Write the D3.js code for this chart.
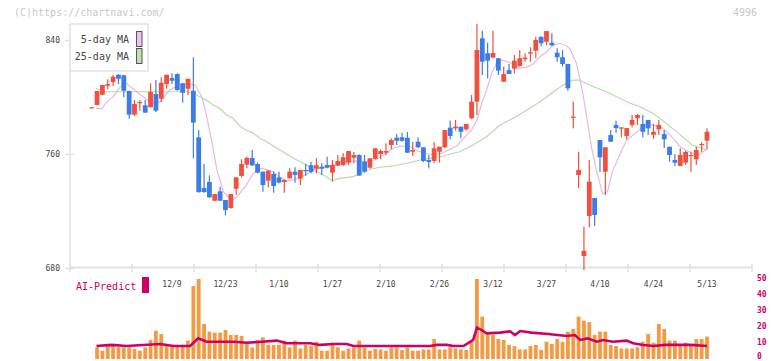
<!DOCTYPE html>
<html>
<head>
<meta charset="utf-8">
<script src="https://cdn.jsdelivr.net/npm/d3@7"></script>
<style>
  body { margin: 0; background: #fff; }
  text { font-family: "DejaVu Sans Mono", "Liberation Mono", monospace; }
</style>
</head>
<body>
<svg id="chart" width="772" height="361"></svg>
<script>
// daily candles, index 0..115 (last = 5/13)
const open = [
  792.8, 794.4, 801.6, 807.9, 810.5, 815.6, 815.2, 804.2, 787.6, 795.6,
  794.2, 792.8, 802.1, 798.8, 809.1, 813.3, 816.1, 809.6, 805.8, 804.4,
  771.7, 736.1, 740.4, 727.2, 733.8, 727.7, 722.1, 735.6, 744.6, 752.5,
  757.2, 753, 747.6, 741.3, 746, 743.6, 740.4, 742.9, 747.6, 742.7,
  748.8, 752.1, 749.7, 751.1, 752.3, 746.9, 751.8, 752.3, 753.9, 757.4,
  759.3, 754.6, 750.4, 756.6, 760, 760.9, 766.3, 771.4, 771.7, 771.4,
  761.6, 768.6, 764.7, 755.8, 755.1, 761.6, 764.7, 778.5, 778, 779.2,
  777.3, 785.1, 796.7, 841.2, 830.7, 827.6, 827.2, 810.7, 818.9, 819.9,
  821.8, 826.5, 830.4, 832.5, 842.3, 838.8, 838.1, 831.1, 827.9, 823.2,
  785.8, 745.3, 688.4, 716.5, 729.1, 769.8, 747.6, 773.3, 780.4, 777.8,
  772.6, 780.4, 785.1, 781.1, 783.9, 773.5, 777.3, 774, 765.1, 755.8,
  751.6, 753.9, 758.6, 756.3, 766.3, 769.3];
const close = [
  792.8, 804.2, 808.4, 809.1, 814.2, 812.8, 804.4, 787.6, 795.1, 796.5,
  789, 803.5, 790.4, 810, 815.6, 811.4, 804.9, 803, 812.8, 782,
  733.3, 733.3, 729.6, 731.9, 727.2, 720.7, 731.9, 743.6, 753, 757.2,
  752, 746.9, 738.2, 748.3, 737.5, 739.9, 741.8, 747.6, 745.3, 748.8,
  747.9, 747.4, 752.1, 749.7, 750.4, 752.3, 755.1, 757.7, 762.1, 759.3,
  744.8, 747.6, 757, 764, 762.1, 762.1, 769.8, 769.3, 769.3, 760.9,
  762.8, 764.7, 755.1, 754.4, 764, 765.1, 776.8, 772.6, 779.2, 775.6,
  781.1, 796.7, 833, 824.8, 825.5, 830.9, 818.5, 816.1, 816.1, 825.5,
  827.2, 827.6, 831.4, 840, 837.7, 846.3, 836.3, 827.9, 823.2, 806.1,
  786.2, 748.8, 692.1, 740.6, 717.2, 757.7, 764.7, 768.6, 778.2, 778.7,
  778.2, 783.9, 787.4, 775.6, 778, 775.6, 780.4, 770.3, 759.3, 753.9,
  759.3, 761.4, 759.3, 762.8, 767, 775.6];
const high = [
  793, 804.4, 808.6, 812.4, 815.6, 816.1, 815.6, 804.4, 797.9, 797.9,
  797.9, 809.6, 811.9, 813.8, 815.6, 816.6, 816.6, 810, 812.8, 827.9,
  776.8, 753, 745, 732, 737, 727.7, 731.9, 743.6, 756.3, 758.1,
  762.8, 754, 747.6, 748.8, 747.6, 747.6, 742.3, 750, 750.7, 748.8,
  753, 754.4, 757, 753.5, 758.1, 755.8, 759.3, 760.6, 762.1, 761.4,
  759.8, 759.3, 757, 764, 763.3, 767.5, 771, 774, 774.9, 775.4,
  768.4, 771.7, 764.7, 759.3, 768.4, 765.1, 776.8, 783.4, 783.9, 779.2,
  781.1, 801.4, 851.2, 846.5, 838.1, 846.5, 827.2, 821.3, 823.2, 829.5,
  833, 830.7, 834.9, 842.3, 842.3, 846.3, 844.7, 834.2, 833, 823.2,
  796.7, 761.6, 709, 755.8, 729.1, 769.8, 764.7, 776.8, 783.4, 778.7,
  778.2, 787.6, 788.1, 787.4, 783.9, 781.1, 783.9, 776.8, 765.1, 760,
  764, 762.3, 761.6, 765.1, 768.4, 778];
const low = [
  792.6, 794.2, 801.2, 805.4, 807.7, 809.1, 799.8, 784.8, 786.7, 790.4,
  789, 792.8, 789.5, 796.5, 805.8, 809.1, 804.4, 796, 801.2, 757,
  732.8, 732.8, 729.1, 726.8, 727.2, 717, 721.6, 731.4, 743.6, 750,
  751.6, 746.5, 733.5, 736.6, 732.8, 739.4, 732.8, 742.7, 739.9, 738.2,
  744.6, 746.5, 746.5, 745.3, 750, 740.6, 751.6, 751.6, 752.1, 753.5,
  744.8, 746.9, 749.7, 756.3, 756.3, 759.3, 763.3, 766.3, 768.6, 760.9,
  758.6, 764.2, 754.4, 749.9, 753.5, 753.9, 764.2, 770.3, 776.4, 771,
  776.4, 784.4, 787.4, 815.4, 813.1, 827.6, 815.4, 810.7, 816.1, 816.6,
  821.3, 824.8, 824.8, 827.2, 835.8, 836.3, 835.8, 824.8, 821.3, 804.4,
  778, 736.1, 678.6, 708.6, 709.5, 747.4, 731.2, 768.6, 774.9, 771.7,
  770.3, 778.7, 780.4, 771.7, 773.3, 770.7, 773.3, 764.2, 754.6, 751.6,
  751.6, 752.3, 747.4, 752.3, 761.4, 763.3];
const volume = [
  null, 7.3, 5.2, 9.4, 8.1, 7.3, 7.3, 7.3, 6.3, 5.2,
  7.3, 11.9, 17.7, 15.6, 8.1, 8.1, 8.8, 8.1, 11.5, 45.6,
  50, 21.9, 17.1, 16.5, 16.5, 18.1, 15, 15, 14.4, 10.8,
  7.3, 11.9, 13.5, 8.8, 8.8, 8.8, 11.5, 7.3, 11.5, 6.6,
  8.8, 8.1, 10.8, 5.2, 5.2, 10.2, 7.3, 5.2, 6.6, 7.3,
  11.5, 7.3, 5.2, 6.3, 6, 5.2, 7.3, 7.3, 5.6, 7.3,
  5.2, 5.2, 6, 6, 12.5, 6, 6, 7.3, 6.6, 6,
  5.6, 10.8, 50, 26.5, 15.6, 15, 12.5, 11.9, 8.8, 8.1,
  6, 6, 8.1, 8.8, 5.6, 10.8, 9.4, 12.5, 10.8, 17.1,
  18.8, 26.5, 24, 23.1, 15, 17.1, 17.1, 8.8, 8.1, 6.6,
  6.6, 6.6, 7.3, 10.8, 15.6, 10.2, 21.9, 18.8, 11.5, 11.5,
  8.8, 10.2, 8.8, 12.5, 12.5, 14];

// moving averages: [candle index, value]
const ma5 = [
  [0.8, 791.9], [1.9, 791.9], [2.8, 796.4], [4, 800.2], [5.3, 807], [6.5, 809.6],
  [7.5, 806.3], [8.7, 802.8], [10, 799.1], [11.2, 795.1], [12.8, 796.7], [14.6, 804.9],
  [16.2, 808.4], [18, 809.6], [19.3, 808.4], [20.6, 800.2], [21.5, 786.2], [22.4, 769.8],
  [23.4, 748.8], [24.6, 733.5], [26.2, 727], [27.1, 730], [28.7, 737], [30.2, 746.5],
  [31.8, 750], [33.9, 747.6], [35.2, 743.6], [36.4, 741], [37.7, 741.8], [38.9, 743.6],
  [40.2, 746], [41.4, 748.3], [42.7, 750], [43.9, 751.1], [45.8, 753], [47.7, 754.6],
  [49.5, 755.1], [51.4, 754.6], [53.3, 756.3], [55.1, 760.5], [56.4, 764], [57.6, 765.6],
  [59.5, 765.2], [61, 762.1], [62.3, 760.5], [63.8, 759.3], [65.4, 760.4], [66.7, 762.8],
  [68.2, 765.6], [69.8, 772], [71, 776.8], [72, 783.9], [72.9, 795.6], [73.8, 804.9],
  [74.8, 817.2], [75.7, 823.6], [76.6, 826], [77.6, 824.8], [78.8, 823.2], [80, 820.1],
  [81.3, 821], [82.5, 823.2], [83.8, 828.3], [85, 831.8], [86.3, 836.5], [87.5, 837.7],
  [88.8, 835.8], [89.4, 833.7], [90.6, 823.6], [91.8, 802.6], [92.6, 783.9], [93.4, 765.1],
  [94.3, 748.8], [95.5, 732], [96.4, 733.5], [97.3, 747.6], [99.1, 762.8], [100, 769.8],
  [101.6, 774.5], [103.1, 779.2], [104.7, 780.4], [106.3, 779.2], [107.5, 775.6], [108.7, 771],
  [110, 765.1], [111.2, 762.3], [112.4, 760.5], [113.7, 760], [115, 763.3]];
const ma25 = [
  [0.8, 806.1], [2.1, 803.7], [10.9, 803.7], [17.6, 803.7], [19, 802.6], [20.2, 800.2],
  [21.4, 797.9], [22.7, 794.4], [23.9, 792.1], [25.2, 787.4], [26.4, 785.1], [27.7, 779.6],
  [28.8, 776.8], [30.2, 774.5], [31.5, 771], [32.7, 768.6], [34.6, 764], [35.2, 762.8],
  [37.7, 757], [40.2, 752.3], [42.1, 747.6], [43.9, 744.1], [44.9, 741.3], [46.4, 742.9],
  [48.9, 744.1], [51.4, 748.8], [53.9, 750.7], [56.4, 751.6], [58.9, 753.5], [61.4, 755.8],
  [65.1, 758.1], [68.8, 761.6], [71.3, 766.3], [73.8, 772.1], [76.3, 780.4], [78.8, 785.1],
  [81.3, 790.9], [83.8, 796.7], [86.3, 803.7], [88.1, 808.4], [90, 811.9], [91.2, 811.9],
  [93, 808.4], [94.9, 805.6], [96.2, 803.7], [100, 796.7], [102.4, 793.2], [104.9, 788.6],
  [107.4, 781.5], [109.7, 774.5], [112.2, 766.3], [115, 762.8]];
const aiPredict = [
  [0.9, 8.1], [3.7, 8.8], [6.5, 8.1], [12.8, 9.4], [15.3, 8.1], [18.4, 8.1], [19.9, 12.9],
  [21.5, 10.8], [24, 10.8], [26.5, 10.8], [29, 10.2], [31.8, 10.8], [34.6, 11.5], [36.4, 9.8],
  [40.8, 9.8], [42.7, 8.8], [45.2, 9.4], [47.7, 9.4], [48.9, 8.1], [53.9, 8.1], [63.2, 8.1],
  [64.5, 8.8], [66.4, 8.8], [67.6, 8.1], [69.5, 8.1], [71.3, 11.9], [72, 19.6], [72.9, 18.1],
  [73.8, 16], [76.3, 16.5], [78.2, 17.3], [79.1, 15], [80.1, 17.5], [82.2, 16.5], [85.3, 15.6],
  [88.8, 14.4], [90.3, 15], [91.3, 11.9], [92.7, 12.9], [94.4, 10.8], [95.6, 11.9], [97.4, 10.8],
  [100, 11.5], [101.2, 9.8], [103.1, 8.8], [105, 8.1], [107.2, 8.8], [111.9, 8.8], [115, 8.1]];

const dateTicks = [
  [15, '12/9'], [25, '12/23'], [35, '1/10'], [45, '1/27'], [55, '2/10'], [65, '2/26'],
  [75, '3/12'], [85, '3/27'], [95, '4/10'], [105, '4/24'], [115, '5/13']];
const priceTicks = [680, 760, 840];
const volTicks = [0, 10, 20, 30, 40, 50];

const upColor = '#f0513f', downColor = '#3d7ce8';
const crimson = '#cc0066';

const svg = d3.select('#chart');

let xScale = d3.scaleLinear().domain([0, 115]).range([91.7, 707]);
let yScale = d3.scaleLinear().domain([680, 840]).range([268, 40]);
let yVol = d3.scaleLinear().domain([0, 50]).range([359, 279]);
// fixed grid marks along the bottom of the price pane
let gridScale = d3.scaleLinear().domain([0, 11]).range([70, 752]);

// watermark + code
svg.append('text').attr('x', 14).attr('y', 16)
  .attr('font-size', '10px').attr('fill', '#c8c8c8')
  .text('(C)https://chartnavi.com/');
svg.append('text').attr('x', 757).attr('y', 16).attr('text-anchor', 'end')
  .attr('font-size', '10px').attr('fill', '#c8c8c8')
  .text('4996');

// axes frame
svg.append('line').attr('x1', 70).attr('x2', 70).attr('y1', 24).attr('y2', 268)
  .attr('stroke', '#e2e2e2').attr('stroke-width', 1.5);
svg.append('line').attr('x1', 70).attr('x2', 752).attr('y1', 267.5).attr('y2', 267.5)
  .attr('stroke', '#e2e2e2').attr('stroke-width', 2);
svg.selectAll('.gtick')
  .data(d3.range(12))
  .enter().append('line')
  .attr('x1', d => gridScale(d)).attr('x2', d => gridScale(d))
  .attr('y1', 264).attr('y2', 272)
  .attr('stroke', '#e2e2e2').attr('stroke-width', 1.5);

// y axis (price)
let yAxis = svg.append('g').attr('class', 'axis')
  .attr('transform', 'translate(70,0)')
  .call(d3.axisLeft(yScale).tickValues(priceTicks).tickSize(5).tickPadding(5));
yAxis.select('.domain').remove();
yAxis.selectAll('line').attr('stroke', '#e2e2e2').attr('stroke-width', 1.5).attr('x2', 4).attr('x1', -5);
yAxis.selectAll('text').attr('font-size', '8px').attr('fill', '#444')
  .attr('font-family', '"DejaVu Sans Mono", monospace');

// date labels
svg.selectAll('.dlabel')
  .data(dateTicks)
  .enter().append('text')
  .attr('x', d => xScale(d[0]))
  .attr('y', 287)
  .attr('text-anchor', 'middle')
  .attr('font-size', '8px').attr('fill', '#444')
  .text(d => d[1]);

// volume bars
svg.selectAll('.vbar')
  .data(volume.map((v, i) => ({ i: i, v: v })).filter(d => d.v != null))
  .enter().append('rect')
  .attr('x', d => xScale(d.i) - 1.9)
  .attr('width', 3.8)
  .attr('y', d => yVol(d.v))
  .attr('height', d => yVol(0) - yVol(d.v))
  .attr('fill', '#f39a43');

// AI-Predict line
svg.append('path')
  .datum(aiPredict)
  .attr('fill', 'none')
  .attr('stroke', crimson)
  .attr('stroke-width', 2.6)
  .attr('d', d3.line().x(d => xScale(d[0])).y(d => yVol(d[1])));

// right volume axis
let vAxis = svg.append('g')
  .attr('transform', 'translate(752,-1.5)')
  .call(d3.axisRight(yVol).tickValues(volTicks).tickSize(0).tickPadding(5));
vAxis.select('.domain').remove();
vAxis.selectAll('text').attr('font-size', '8px').attr('fill', crimson)
  .attr('font-weight', 'bold')
  .attr('font-family', '"DejaVu Sans Mono", monospace')
  .attr('dy', d => d == 0 ? '0.1em' : '0.32em');

// AI-Predict legend
svg.append('text').attr('x', 76).attr('y', 290)
  .attr('font-size', '10px').attr('fill', crimson).text('AI-Predict');
svg.append('rect').attr('x', 142).attr('y', 277).attr('width', 7).attr('height', 16)
  .attr('fill', crimson);

// moving averages
let maLine = d3.line().x(d => xScale(d[0])).y(d => yScale(d[1]));
svg.append('path').datum(ma25)
  .attr('fill', 'none').attr('stroke', '#b4dca6').attr('stroke-width', 1.2)
  .attr('d', maLine);
svg.append('path').datum(ma5)
  .attr('fill', 'none').attr('stroke', '#eab6ea').attr('stroke-width', 1.2)
  .attr('d', maLine);

// candles
let candles = open.map((o, i) => ({ i: i, o: o, c: close[i], h: high[i], l: low[i] }));
let cg = svg.append('g');
cg.selectAll('.wick')
  .data(candles)
  .enter().append('rect')
  .attr('x', d => xScale(d.i) - 0.6)
  .attr('width', 1.2)
  .attr('y', d => yScale(d.h))
  .attr('height', d => Math.max(1, yScale(d.l) - yScale(d.h)))
  .attr('fill', d => d.c >= d.o ? upColor : downColor);
cg.selectAll('.body')
  .data(candles)
  .enter().append('rect')
  .attr('x', d => xScale(d.i) - 2.4)
  .attr('width', 4.8)
  .attr('y', d => yScale(Math.max(d.o, d.c)))
  .attr('height', d => Math.max(1.2, Math.abs(yScale(d.o) - yScale(d.c))))
  .attr('fill', d => d.c >= d.o ? upColor : downColor);

// MA legend box
let lg = svg.append('g');
lg.append('rect').attr('x', 70).attr('y', 24).attr('width', 78).attr('height', 47)
  .attr('fill', '#fff').attr('stroke', '#e2e2e2').attr('stroke-width', 1.5);
const legendItems = [['5-day MA', '#f0c0f0'], ['25-day MA', '#c0e2b2']];
legendItems.forEach(function (it, k) {
  lg.append('text').attr('x', 129).attr('y', 43 + k * 17).attr('text-anchor', 'end')
    .attr('font-size', '10px').attr('fill', '#444').text(it[0]);
  lg.append('rect').attr('x', 136.5).attr('y', 31.5 + k * 17).attr('width', 5.5).attr('height', 15)
    .attr('fill', it[1]).attr('stroke', '#555').attr('stroke-width', 1);
});
</script>
</body>
</html>
